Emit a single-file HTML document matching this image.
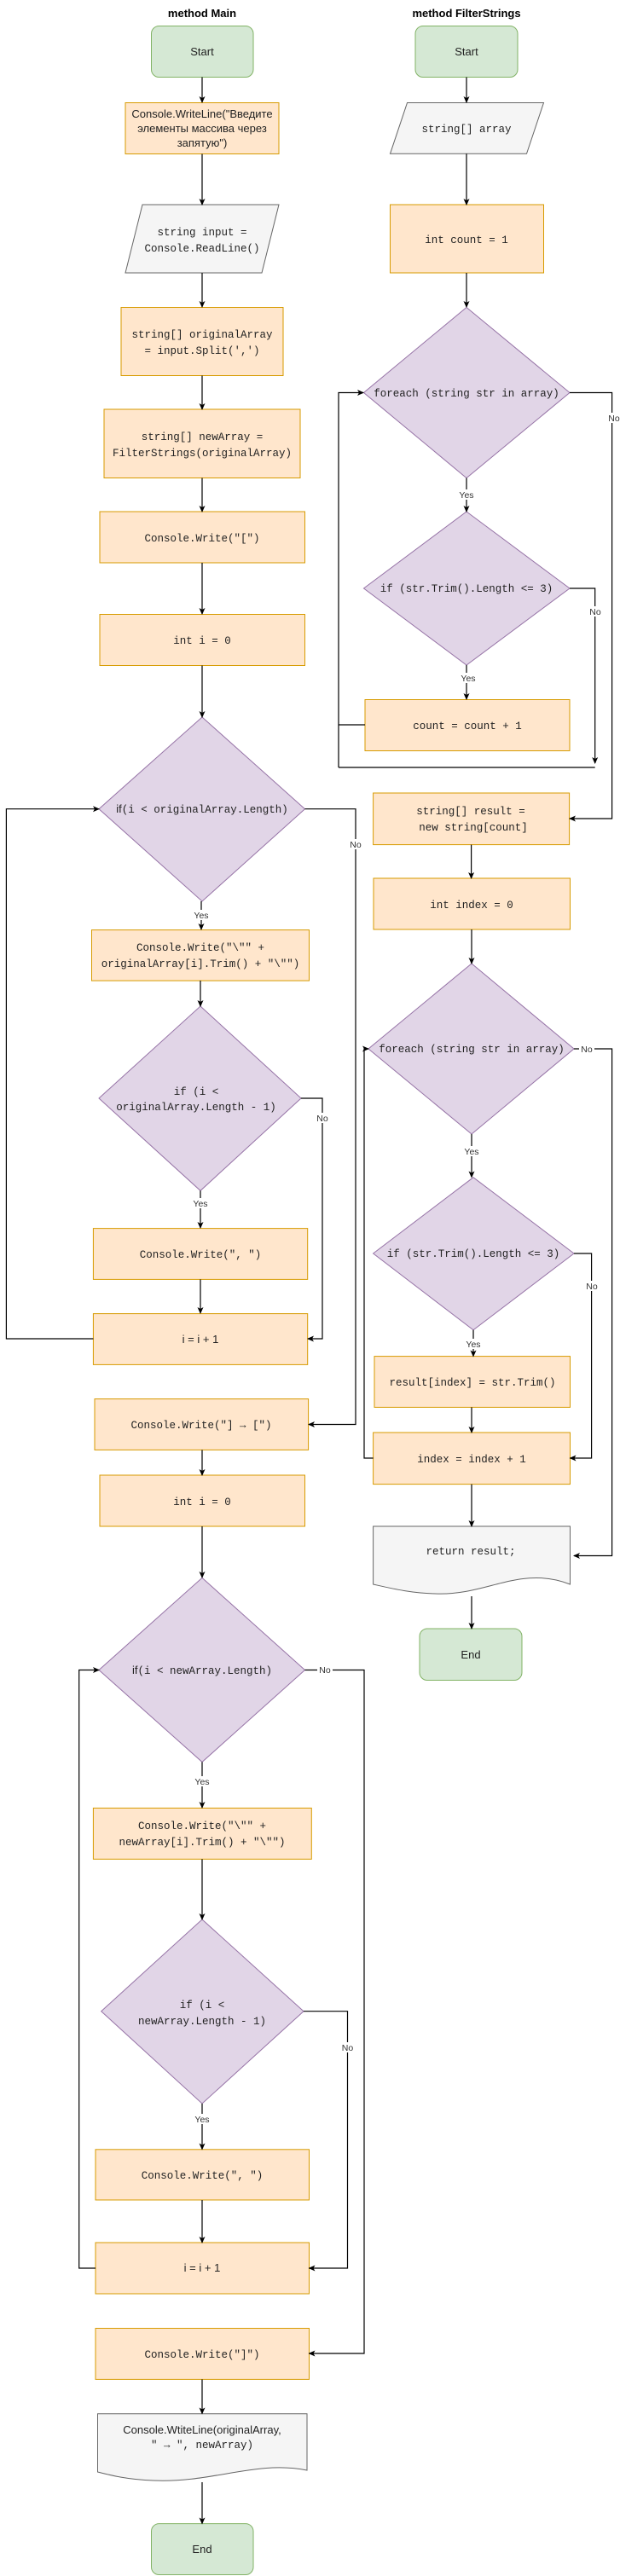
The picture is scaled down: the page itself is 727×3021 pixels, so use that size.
<!DOCTYPE html>
<html><head><meta charset="utf-8"><style>
html,body{margin:0;padding:0;background:#fff}
svg{display:block}
.m{font-family:"Liberation Mono",monospace;font-size:12.5px;fill:#222}
.s{font-family:"Liberation Sans","Noto Sans CJK SC",sans-serif;font-size:13px;fill:#222}
.t{font-family:"Liberation Sans",sans-serif;font-size:13px;font-weight:bold;fill:#000}
.l{font-family:"Liberation Sans",sans-serif;font-size:10.5px;fill:#333}
.o{fill:#ffe6cc;stroke:#d79b00;stroke-width:1}
.g{fill:#d5e8d4;stroke:#82b366;stroke-width:1}
.p{fill:#e1d5e7;stroke:#9673a6;stroke-width:1}
.y{fill:#f5f5f5;stroke:#666;stroke-width:1}
.c{fill:none;stroke:#000;stroke-width:1.2}
.a{marker-end:url(#ar)}
</style></head><body>
<svg width="727" height="3021" viewBox="0 0 727 3021" xmlns="http://www.w3.org/2000/svg">
<defs><marker id="ar" markerWidth="8" markerHeight="8" refX="7" refY="4" orient="auto" markerUnits="userSpaceOnUse"><path d="M0,0.5 L8,4 L0,7.5 L2,4 Z" fill="#000"/></marker></defs>

<text class="t" x="237" y="20" text-anchor="middle">method Main</text>
<text class="t" x="547" y="20" text-anchor="middle">method FilterStrings</text>

<!-- ===== MAIN ===== -->
<rect class="g" x="177.5" y="30.5" width="119.5" height="60" rx="9"/>
<text class="s" x="237" y="65" text-anchor="middle" font-size="14">Start</text>

<rect class="o" x="147" y="120.5" width="180" height="60"/>
<text class="s" text-anchor="middle" font-size="13.5"><tspan x="237" y="138">Console.WriteLine("Введите</tspan><tspan x="237" y="155">элементы массива через</tspan><tspan x="237" y="172">запятую")</tspan></text>

<path class="y" d="M167,240 H327 L307,320 H147 Z"/>
<text class="m" text-anchor="middle"><tspan x="237" y="276">string input =</tspan><tspan x="237" y="295">Console.ReadLine()</tspan></text>

<rect class="o" x="142" y="360.5" width="190" height="80"/>
<text class="m" text-anchor="middle"><tspan x="237" y="396">string[] originalArray</tspan><tspan x="237" y="415">= input.Split(',')</tspan></text>

<rect class="o" x="122" y="480" width="230" height="80.5"/>
<text class="m" text-anchor="middle"><tspan x="237" y="516">string[] newArray =</tspan><tspan x="237" y="535">FilterStrings(originalArray)</tspan></text>

<rect class="o" x="117" y="600" width="240.5" height="60"/>
<text class="m" x="237" y="635" text-anchor="middle">Console.Write("[")</text>

<rect class="o" x="117" y="720.5" width="240.5" height="60"/>
<text class="m" x="237" y="755" text-anchor="middle">int i = 0</text>

<path class="p" d="M237,841 L357.5,948.7 L237,1057 L116,948.7 Z"/>
<text class="m" x="237" y="953" text-anchor="middle"><tspan class="s" font-size="11">if</tspan>(i &lt; originalArray.Length)</text>

<rect class="o" x="107.5" y="1090.6" width="255" height="59.5"/>
<text class="m" text-anchor="middle"><tspan x="235" y="1115">Console.Write("\"" +</tspan><tspan x="235" y="1134">originalArray[i].Trim() + "\"")</tspan></text>

<path class="p" d="M235,1180 L353,1288 L235,1396.4 L116,1288 Z"/>
<text class="m" text-anchor="middle"><tspan x="230" y="1284">if (i &lt;</tspan><tspan x="230" y="1302">originalArray.Length - 1)</tspan></text>

<rect class="o" x="109.4" y="1440.6" width="251.3" height="59.8"/>
<text class="m" x="235" y="1475" text-anchor="middle">Console.Write(", ")</text>

<rect class="o" x="109.4" y="1540.6" width="251.3" height="59.8"/>
<text class="s" x="235" y="1575" text-anchor="middle">i = i + 1</text>

<rect class="o" x="111" y="1640.6" width="250.6" height="59.8"/>
<text class="m" x="236" y="1675" text-anchor="middle">Console.Write("] → [")</text>

<rect class="o" x="117" y="1730" width="240.5" height="60"/>
<text class="m" x="237" y="1765" text-anchor="middle">int i = 0</text>

<path class="p" d="M237,1850.4 L357.5,1958.5 L237,2066.4 L116,1958.5 Z"/>
<text class="m" x="237" y="1963" text-anchor="middle"><tspan class="s" font-size="11">if</tspan>(i &lt; newArray.Length)</text>

<rect class="o" x="109.4" y="2120.4" width="255.9" height="59.9"/>
<text class="m" text-anchor="middle"><tspan x="237" y="2145">Console.Write("\"" +</tspan><tspan x="237" y="2164">newArray[i].Trim() + "\"")</tspan></text>

<path class="p" d="M237,2251 L356,2358.7 L237,2467 L118.7,2358.7 Z"/>
<text class="m" text-anchor="middle"><tspan x="237" y="2355">if (i &lt;</tspan><tspan x="237" y="2374">newArray.Length - 1)</tspan></text>

<rect class="o" x="112" y="2520.8" width="250.5" height="59.2"/>
<text class="m" x="237" y="2555" text-anchor="middle">Console.Write(", ")</text>

<rect class="o" x="112" y="2630" width="250.5" height="60"/>
<text class="s" x="237" y="2664" text-anchor="middle">i = i + 1</text>

<rect class="o" x="112" y="2730.5" width="250.5" height="59.9"/>
<text class="m" x="237" y="2765" text-anchor="middle">Console.Write("]")</text>

<path class="y" d="M114.5,2830.7 H360 V2897 C300,2885 250,2912 180,2909 C150,2908 130,2903 114.5,2899 Z"/>
<text text-anchor="middle"><tspan class="s" x="237" y="2854">Console.WtiteLine(originalArray,</tspan><tspan class="m" x="237" y="2871">" → ", newArray)</tspan></text>

<rect class="g" x="177.5" y="2959.6" width="119.5" height="59.9" rx="9"/>
<text class="s" x="237" y="2994" text-anchor="middle" font-size="14">End</text>

<!-- main connectors -->
<path class="c a" d="M237,90.5 V120"/>
<path class="c a" d="M237,180.5 V240"/>
<path class="c a" d="M237,320 V360"/>
<path class="c a" d="M237,440.5 V480"/>
<path class="c a" d="M237,560.5 V600"/>
<path class="c a" d="M237,660 V720"/>
<path class="c a" d="M237,780.5 V841"/>
<path class="c a" d="M236,1057 V1090"/>
<path class="c a" d="M235,1150 V1180"/>
<path class="c a" d="M235,1396.4 V1440"/>
<path class="c a" d="M235,1500.4 V1540"/>
<path class="c a" d="M109.4,1570 H7.4 V948.7 H116"/>
<path class="c a" d="M353,1288 H378 V1570 H361"/>
<path class="c a" d="M357.5,948.7 H417 V1670.5 H362"/>
<path class="c a" d="M237,1700.4 V1730"/>
<path class="c a" d="M237,1790 V1850"/>
<path class="c a" d="M237,2066.4 V2120"/>
<path class="c a" d="M237,2180.3 V2251"/>
<path class="c a" d="M237,2467 V2520.5"/>
<path class="c a" d="M237,2580 V2630"/>
<path class="c a" d="M112,2660 H92.7 V1958.5 H116"/>
<path class="c a" d="M356,2358.7 H407.5 V2660 H362.5"/>
<path class="c a" d="M357.5,1958.5 H427 V2760 H362.5"/>
<path class="c a" d="M237,2790.4 V2830.5"/>
<path class="c a" d="M237,2911 V2959.5"/>

<!-- main labels -->
<g class="l" text-anchor="middle">
<rect x="225" y="1067" width="22" height="12" fill="#fff"/><text x="236" y="1077">Yes</text>
<rect x="224" y="1405" width="22" height="12" fill="#fff"/><text x="235" y="1415">Yes</text>
<rect x="226" y="2083" width="22" height="12" fill="#fff"/><text x="237" y="2093">Yes</text>
<rect x="226" y="2479" width="22" height="12" fill="#fff"/><text x="237" y="2489">Yes</text>
<rect x="408" y="984" width="18" height="12" fill="#fff"/><text x="417" y="994">No</text>
<rect x="369" y="1305" width="18" height="12" fill="#fff"/><text x="378" y="1315">No</text>
<rect x="398" y="2395" width="18" height="12" fill="#fff"/><text x="407.5" y="2405">No</text>
<rect x="372" y="1952" width="18" height="12" fill="#fff"/><text x="381" y="1962">No</text>
</g>

<!-- ===== FILTERSTRINGS ===== -->
<rect class="g" x="487" y="30.5" width="120" height="60" rx="9"/>
<text class="s" x="547" y="65" text-anchor="middle" font-size="14">Start</text>

<path class="y" d="M477.5,120.5 H637.5 L617.5,180.3 H457.5 Z"/>
<text class="m" x="547" y="155" text-anchor="middle">string[] array</text>

<rect class="o" x="457.5" y="240" width="180" height="80"/>
<text class="m" x="547" y="285" text-anchor="middle">int count = 1</text>

<path class="p" d="M547,360.5 L668,460.5 L547,560.6 L426.5,460.5 Z"/>
<text class="m" x="547" y="465" text-anchor="middle">foreach (string str in array)</text>

<path class="p" d="M547,600 L668,690 L547,780 L426.5,690 Z"/>
<text class="m" x="547" y="694" text-anchor="middle">if (str.Trim().Length &lt;= 3)</text>

<rect class="o" x="428" y="820.5" width="240" height="60"/>
<text class="m" x="548" y="855" text-anchor="middle">count = count + 1</text>

<rect class="o" x="437.6" y="930" width="230" height="60.6"/>
<text class="m" text-anchor="middle"><tspan x="552" y="955">string[] result =</tspan><tspan x="555" y="974">new string[count]</tspan></text>

<rect class="o" x="438" y="1030" width="230.5" height="60"/>
<text class="m" x="553" y="1065" text-anchor="middle">int index = 0</text>

<path class="p" d="M553,1130 L673,1230 L553,1330 L432,1230 Z"/>
<text class="m" x="553" y="1234" text-anchor="middle">foreach (string str in array)</text>

<path class="p" d="M555,1380.8 L673,1470 L555,1559.8 L437.6,1470 Z"/>
<text class="m" x="555" y="1474" text-anchor="middle">if (str.Trim().Length &lt;= 3)</text>

<rect class="o" x="439" y="1590.6" width="229.5" height="59.8"/>
<text class="m" x="554" y="1625" text-anchor="middle">result[index] = str.Trim()</text>

<rect class="o" x="437.6" y="1680" width="230.9" height="60.6"/>
<text class="m" x="553" y="1715" text-anchor="middle">index = index + 1</text>

<path class="y" d="M437.6,1790 H668.5 V1858 C610,1835 570,1872 510,1869 C480,1868 460,1863 437.6,1858 Z"/>
<text class="m" x="552" y="1823" text-anchor="middle">return result;</text>

<rect class="g" x="492" y="1910" width="120" height="60.5" rx="9"/>
<text class="s" x="552" y="1945" text-anchor="middle" font-size="14">End</text>

<!-- right connectors -->
<path class="c a" d="M547,90.5 V120"/>
<path class="c a" d="M547,180.3 V240"/>
<path class="c a" d="M547,320 V360"/>
<path class="c a" d="M547,560.6 V600"/>
<path class="c a" d="M547,780 V820"/>
<path class="c" d="M428,850 H397"/>
<path class="c" d="M697.7,900 H397"/>
<path class="c a" d="M397,900 V460.5 H426"/>
<path class="c a" d="M668,690 H697.7 V895"/>
<path class="c a" d="M668,460.5 H717.6 V960 H668"/>
<path class="c a" d="M552.6,990.6 V1030"/>
<path class="c a" d="M553,1090 V1130"/>
<path class="c a" d="M553,1330 V1380.5"/>
<path class="c a" d="M555,1559.8 V1590.5"/>
<path class="c a" d="M553,1650.4 V1680"/>
<path class="c a" d="M673,1470 H693.6 V1710 H668.5"/>
<path class="c a" d="M437.6,1710 H427 V1230 H432"/>
<path class="c a" d="M673,1230 H717.6 V1824.5 H673"/>
<path class="c a" d="M553,1740.6 V1790"/>
<path class="c a" d="M553,1872 V1910"/>

<g class="l" text-anchor="middle">
<rect x="536" y="574" width="22" height="12" fill="#fff"/><text x="547" y="584">Yes</text>
<rect x="538" y="789" width="22" height="12" fill="#fff"/><text x="549" y="799">Yes</text>
<rect x="542" y="1344" width="22" height="12" fill="#fff"/><text x="553" y="1354">Yes</text>
<rect x="544" y="1570" width="22" height="12" fill="#fff"/><text x="555" y="1580">Yes</text>
<rect x="710" y="484" width="17" height="12" fill="#fff"/><text x="720" y="494">No</text>
<rect x="689" y="711" width="18" height="12" fill="#fff"/><text x="698" y="721">No</text>
<rect x="679" y="1224" width="18" height="12" fill="#fff"/><text x="688" y="1234">No</text>
<rect x="685" y="1502" width="18" height="12" fill="#fff"/><text x="694" y="1512">No</text>
</g>
</svg>
</body></html>
